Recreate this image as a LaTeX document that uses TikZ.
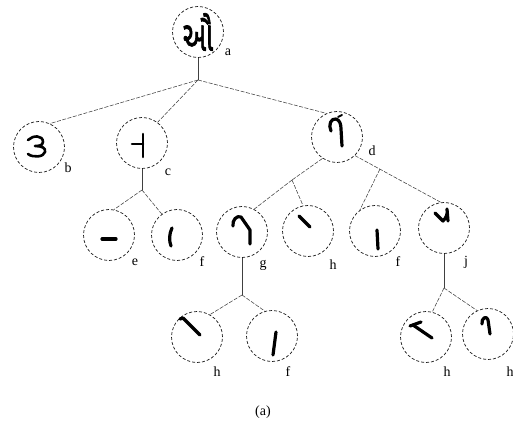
\documentclass[tikz,border=0pt]{standalone}
\usepackage{fontspec}
\setmainfont{Liberation Serif}
\newfontfamily\gujfont[Script=Gujarati,FakeBold=2]{Noto Sans Gujarati UI}
\usetikzlibrary{calc}
\begin{document}
\begin{tikzpicture}[x=1pt,y=-1pt,
  circ/.style={circle,draw=black!90,dash pattern=on 3pt off 2pt,line width=0.7pt,minimum size=51pt,inner sep=0pt},
  conn/.style={draw=black!75,line width=0.55pt,dash pattern=on 4pt off 1.5pt},
  stem/.style={draw=black!75,line width=0.7pt},
  stroke/.style={line width=3.2pt,line cap=round,line join=round},
  lbl/.style={font=\fontsize{14}{14}\selectfont,inner sep=0pt}]
\useasboundingbox[fill=white] (0,0) rectangle (513,427);
% nodes
\node[circ,font=\gujfont\fontsize{31}{31}\selectfont] (a) at (198,32) {\raisebox{-2pt}{\scalebox{0.85}[1.35]{ઔ}}};
\coordinate (J0) at (198,80);
\node[circ] (b) at (39,147) {};
\node[circ] (c) at (142,143) {};
\node[circ] (d) at (337,137) {};
\coordinate (Jc) at (142,190);
\node[circ] (e) at (109,235) {};
\node[circ] (f1) at (177,235) {};
\node[circ] (g) at (242,232) {};
\node[circ] (h1) at (308,231) {};
\node[circ] (f2) at (375,231) {};
\node[circ] (j) at (444,228) {};
\coordinate (Jd1) at (292,180);
\coordinate (Jg) at (242,295);
\coordinate (Jj) at (444,288);
\node[circ] (h2) at (197,337) {};
\node[circ] (f3) at (272,336) {};
\node[circ] (h3) at (426,337) {};
\node[circ] (k) at (488,334) {};
% labels
\node[lbl] (la) at ($(a)+(30,20)$) {a};
\node[lbl] (lb) at ($(b)+(29,21)$) {b};
\node[lbl] (lc) at ($(c)+(26,29)$) {c};
\node[lbl] (ld) at ($(d)+(35,14)$) {d};
\node[lbl] (le) at ($(e)+(26,27)$) {e};
\node[lbl] (lf1) at ($(f1)+(25,27)$) {f};
\node[lbl] (lg) at ($(g)+(21,33)$) {g};
\node[lbl] (lh1) at ($(h1)+(25,34)$) {h};
\node[lbl] (lf2) at ($(f2)+(23,31)$) {f};
\node[lbl] (lj) at ($(j)+(22,34)$) {j};
\node[lbl] (lh2) at ($(h2)+(20,35)$) {h};
\node[lbl] (lf3) at ($(f3)+(16,36)$) {f};
\node[lbl] (lh3) at ($(h3)+(21,35)$) {h};
\node[lbl] (lk) at ($(k)+(22,38)$) {h};
\node[lbl] (cap) at (263,412) {(a)};
% connectors
\draw[stem] (a.south) -- (J0);
\draw[conn] (J0) -- (b.65);
\draw[conn] (J0) -- (c.53);
\draw[conn] (J0) -- (d.114);
\draw[stem] (c.south) -- (Jc);
\draw[conn] (Jc) -- (e.79);
\draw[conn] (Jc) -- (f1.126);
\draw[conn] (d.236) -- (Jd1);
\draw[conn] (Jd1) -- (g.62);
\draw[conn] (Jd1) -- (h1.101);
\draw[conn] (d.-46) -- (j.97);
\coordinate (Jd2) at ($(d.-46)!0.29!(j.97)$);
\draw[conn] (Jd2) -- (f2.126);
\draw[stem] (g.south) -- (Jg);
\draw[conn] (Jg) -- (h2.60);
\draw[conn] (Jg) -- (f3.106);
\draw[stem] (j.south) -- (Jj);
\draw[conn] (Jj) -- (h3.76);
\draw[conn] (Jj) -- (k.115);
% stroke fragments
\begin{scope}[shift={(b.center)}]
\draw[stroke,line width=2.6pt] (-11,-7) .. controls (-6,-12) and (4,-12) .. (4,-5) .. controls (4,-1) and (-2,-1) .. (-4,-1) .. controls (3,-1) and (7,1) .. (6,5) .. controls (5,10) and (-6,11) .. (-11,7);
\end{scope}
\begin{scope}[shift={(c.center)}]
\draw[stroke,line width=2.6pt] (1,-9) -- (1,14);
\draw[stroke,line width=2.6pt] (-10,1) -- (1,1);
\end{scope}
\begin{scope}[shift={(e.center)}]
\draw[stroke] (-7,4) -- (7,4);
\end{scope}
\begin{scope}[shift={(f1.center)}]
\draw[stroke] (-5,-7) .. controls (-8,-1) and (-8,6) .. (-6,11);
\end{scope}
\begin{scope}[shift={(d.center)}]
\draw[stroke] (-6,-6) .. controls (-9,-12) and (-6,-19) .. (-1,-18) .. controls (3,-17) and (4,-12) .. (4,-8) -- (5,9);
\draw[stroke,line width=1.8pt] (1,-20) -- (5,-22);
\end{scope}
\begin{scope}[shift={(g.center)}]
\draw[stroke] (-9,-6) .. controls (-10,-12) and (-5,-17) .. (-1,-15) -- (8,-2) -- (8,12);
\end{scope}
\begin{scope}[shift={(h1.center)}]
\draw[stroke] (-9,-15) -- (2,-4);
\end{scope}
\begin{scope}[shift={(f2.center)}]
\draw[stroke] (2,-1) -- (3,18);
\end{scope}
\begin{scope}[shift={(j.center)}]
\draw[stroke] (-9,-15) -- (-1,-7) .. controls (2,-10) and (4,-14) .. (3,-19) -- (4,-7);
\end{scope}
\begin{scope}[shift={(h2.center)}]
\draw[stroke] (-17,-18) -- (-14,-19) -- (3,-2);
\end{scope}
\begin{scope}[shift={(f3.center)}]
\draw[stroke] (4,-4) -- (1,19);
\end{scope}
\begin{scope}[shift={(h3.center)}]
\draw[stroke] (-13,-12) -- (6,1);
\draw[stroke] (-16,-11) -- (-5,-15);
\end{scope}
\begin{scope}[shift={(k.center)}]
\draw[stroke] (-6,-10) .. controls (-7,-16) and (-1,-19) .. (0,-14) -- (2,0);
\end{scope}
\end{tikzpicture}
\end{document}
